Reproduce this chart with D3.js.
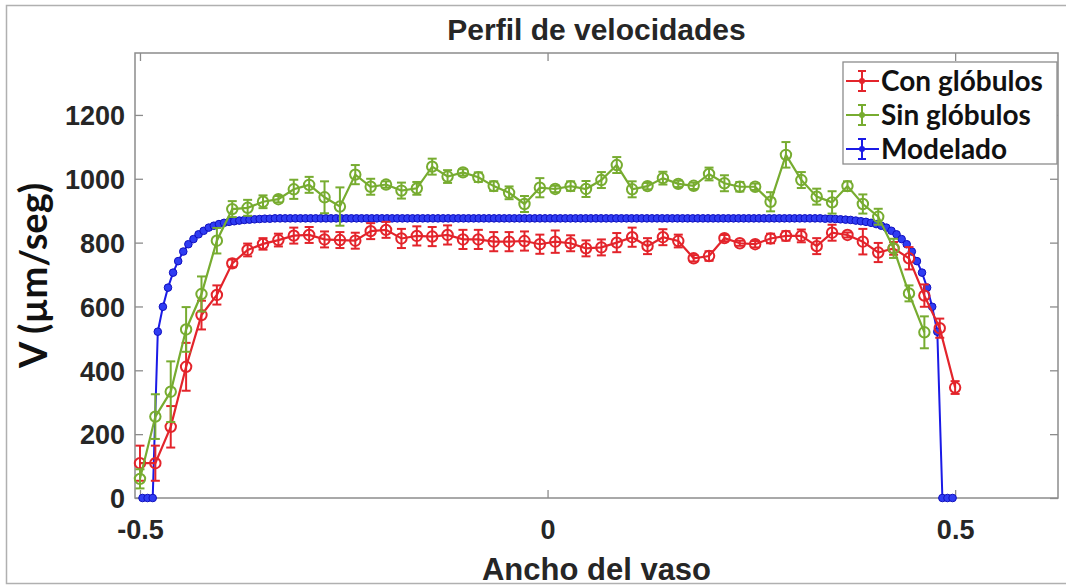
<!DOCTYPE html>
<html>
<head>
<meta charset="utf-8">
<script src="https://cdn.jsdelivr.net/npm/d3@7"></script>
<style>
  html, body { margin: 0; padding: 0; background: #fff; }
  svg { display: block; }
</style>
</head>
<body>
<div id="chart"></div>
<script>
// ---------------- DATA ----------------
const title = "Perfil de velocidades";
const xLabel = "Ancho del vaso";
const yLabel = "V (µm/seg)";
const seriesNames = ["Con glóbulos", "Sin glóbulos", "Modelado"];
const xTicks = [-0.5, 0, 0.5];
const xTickLabels = ["-0.5", "0", "0.5"];
const yTicks = [0, 200, 400, 600, 800, 1000, 1200];

// sample positions across the vessel (uniform grid of measurement points)
const nMeasured = 54;          // measurement points from -0.5 to 0.5
const nModel = 160;            // model points (cell centres)

// Con glóbulos (red)
const conValues = [
  109, 109, 223, 411, 573, 636, 735, 777, 796, 808,
  822, 824, 810, 808, 806, 836, 840, 813, 821, 819,
  824, 810, 810, 803, 803, 805, 795, 803, 798, 782,
  785, 800, 817, 789, 817, 805, 751, 758, 814, 798,
  795, 813, 821, 821, 789, 831, 824, 803, 769, 782,
  751, 634, 532, 346
];
const conErrors = [
  55, 55, 65, 75, 45, 30, 12, 20, 18, 20,
  25, 25, 25, 25, 25, 25, 25, 30, 30, 30,
  30, 30, 30, 30, 30, 30, 30, 35, 25, 25,
  25, 30, 30, 25, 25, 20, 10, 15, 10, 8,
  10, 15, 15, 20, 25, 25, 8, 40, 30, 20,
  35, 35, 30, 20
];

// Sin glóbulos (green)
const sinValues = [
  60, 255, 333, 528, 639, 806, 905, 909, 928, 936,
  967, 981, 942, 913, 1013, 975, 982, 963, 970, 1038,
  1007, 1020, 1005, 977, 956, 921, 972, 968, 977, 968,
  996, 1043, 967, 977, 1002, 984, 978, 1015, 986, 975,
  975, 928, 1075, 996, 944, 926, 977, 921, 881, 782,
  641, 519
];
const sinErrors = [
  30, 70, 95, 70, 55, 40, 25, 25, 20, 10,
  30, 25, 50, 60, 30, 25, 10, 25, 20, 25,
  20, 10, 15, 15, 20, 25, 30, 10, 15, 25,
  25, 25, 25, 10, 20, 10, 10, 20, 25, 15,
  10, 30, 40, 25, 25, 35, 15, 30, 25, 30,
  25, 50
];

// Modelado (blue)
const modelValues = [
  0, 0, 0, 521, 599, 659, 706, 742, 772, 795,
  811, 826, 837, 847, 853, 858, 862, 865, 867, 869,
  871, 872, 873, 874, 875, 875,
  876, 876, 876, 876, 876, 876, 876, 876, 876, 876, 876, 876,
  876, 876, 876, 876, 876, 876, 876, 876, 876, 876, 876, 876,
  876, 876, 876, 876, 876, 876, 876, 876, 876, 876, 876, 876,
  876, 876, 876, 876, 876, 876, 876, 876, 876, 876, 876, 876,
  876, 876, 876, 876, 876, 876, 876, 876, 876, 876, 876, 876,
  876, 876, 876, 876, 876, 876, 876, 876, 876, 876, 876, 876,
  876, 876, 876, 876, 876, 876, 876, 876, 876, 876, 876, 876,
  876, 876, 876, 876, 876, 876, 876, 876, 876, 876, 876, 876,
  876, 876, 876, 876, 876, 876, 876, 876, 876, 876, 876, 876,
  875, 875, 874, 873, 872, 871, 869, 867, 865, 862,
  858, 853, 847, 837, 826, 811, 795, 772, 742, 706,
  659, 599, 521, 0, 0, 0
];

const measuredX = d3.range(nMeasured).map(i => -0.5 + i / (nMeasured - 1));
const modelX = d3.range(nModel).map(k => -0.5 + (k + 0.5) / nModel);

const colors = { con: "#e3242b", sin: "#77ac30", model: "#1a1ae6" };

// ---------------- LAYOUT ----------------
const W = 1066, H = 586;
const box = { left: 135, right: 1058, top: 53, bottom: 498 };

const svg = d3.select("#chart").append("svg")
  .attr("width", W).attr("height", H);

svg.append("rect").attr("x", 0).attr("y", 0).attr("width", W).attr("height", H).attr("fill", "#fff");
// outer figure frame
svg.append("rect").attr("x", 6.5).attr("y", 5.5).attr("width", W + 10).attr("height", 578)
  .attr("fill", "none").attr("stroke", "#b0b0b0").attr("stroke-width", 1.5);

const x = d3.scaleLinear().domain([-0.5061, 0.6262]).range([box.left, box.right]);
const y = d3.scaleLinear().domain([0, 1394]).range([box.bottom, box.top]);

const axisColor = "#8c8c8c";
const textColor = "#262626";

// axes box
svg.append("rect")
  .attr("x", box.left).attr("y", box.top)
  .attr("width", box.right - box.left).attr("height", box.bottom - box.top)
  .attr("fill", "#fff").attr("stroke", axisColor).attr("stroke-width", 1.5);

// axes with inward ticks (bottom/top/left/right)
const tickLen = 8;
const gx = svg.append("g").attr("transform", `translate(0,${box.bottom})`)
  .call(d3.axisBottom(x).tickValues(xTicks).tickSize(-tickLen).tickFormat((d, i) => xTickLabels[i]));
const gxTop = svg.append("g").attr("transform", `translate(0,${box.top})`)
  .call(d3.axisTop(x).tickValues(xTicks).tickSize(-tickLen).tickFormat(""));
const gy = svg.append("g").attr("transform", `translate(${box.left},0)`)
  .call(d3.axisLeft(y).tickValues(yTicks).tickSize(-tickLen).tickFormat(d3.format("d")));
const gyR = svg.append("g").attr("transform", `translate(${box.right},0)`)
  .call(d3.axisRight(y).tickValues(yTicks).tickSize(-tickLen).tickFormat(""));

[gx, gxTop, gy, gyR].forEach(g => {
  g.select(".domain").remove();
  g.selectAll(".tick line").attr("stroke", axisColor).attr("stroke-width", 1.3);
});
gx.selectAll(".tick text")
  .attr("font-family", "'Liberation Sans', Arial, sans-serif")
  .attr("font-weight", "bold").attr("font-size", 27).attr("fill", textColor)
  .attr("y", 0).attr("dy", 41);
gy.selectAll(".tick text")
  .attr("font-family", "'Liberation Sans', Arial, sans-serif")
  .attr("font-weight", "bold").attr("font-size", 27).attr("fill", textColor)
  .attr("x", -10).attr("dy", "0.36em");

// title and labels
svg.append("text").attr("x", (box.left + box.right) / 2).attr("y", 40)
  .attr("text-anchor", "middle")
  .attr("font-family", "'Liberation Sans', Arial, sans-serif")
  .attr("font-weight", "bold").attr("font-size", 30).attr("fill", textColor)
  .text(title);

svg.append("text").attr("x", (box.left + box.right) / 2).attr("y", 580)
  .attr("text-anchor", "middle")
  .attr("font-family", "'Liberation Sans', Arial, sans-serif")
  .attr("font-weight", "bold").attr("font-size", 31).attr("fill", textColor)
  .text(xLabel);

svg.append("text")
  .attr("transform", `translate(47,${(box.top + box.bottom) / 2}) rotate(-90)`)
  .attr("text-anchor", "middle")
  .attr("font-family", "Lato, 'Noto Sans', sans-serif")
  .attr("font-weight", "bold").attr("font-size", 38).attr("fill", "#111")
  .text(yLabel);

// ---------------- MARKS ----------------
const plot = svg.append("g");
const line = d3.line().x(d => x(d.x)).y(d => y(d.v));

const modelData = modelX.map((xv, i) => ({ x: xv, v: modelValues[i] }));
const conData = conValues.map((v, i) => ({ x: measuredX[i], v, e: conErrors[i] }));
const sinData = sinValues.map((v, i) => ({ x: measuredX[i], v, e: sinErrors[i] }));

// Model (blue) drawn first
plot.append("path").datum(modelData).attr("d", line)
  .attr("fill", "none").attr("stroke", colors.model).attr("stroke-width", 2);
plot.append("g").selectAll("circle").data(modelData).join("circle")
  .attr("cx", d => x(d.x)).attr("cy", d => y(d.v)).attr("r", 3.8)
  .attr("fill", "#2f3cf2").attr("stroke", "#1010c0").attr("stroke-width", 1);

function drawMeasured(data, color) {
  const g = plot.append("g");
  g.append("path").datum(data).attr("d", line)
    .attr("fill", "none").attr("stroke", color).attr("stroke-width", 2.2);
  const eb = g.append("g").attr("stroke", color).attr("stroke-width", 2);
  eb.selectAll("line.v").data(data).join("line").attr("class", "v")
    .attr("x1", d => x(d.x)).attr("x2", d => x(d.x))
    .attr("y1", d => y(d.v - d.e)).attr("y2", d => y(d.v + d.e));
  eb.selectAll("line.t").data(data).join("line").attr("class", "t")
    .attr("x1", d => x(d.x) - 4.5).attr("x2", d => x(d.x) + 4.5)
    .attr("y1", d => y(d.v + d.e)).attr("y2", d => y(d.v + d.e));
  eb.selectAll("line.b").data(data).join("line").attr("class", "b")
    .attr("x1", d => x(d.x) - 4.5).attr("x2", d => x(d.x) + 4.5)
    .attr("y1", d => y(d.v - d.e)).attr("y2", d => y(d.v - d.e));
  g.append("g").selectAll("circle").data(data).join("circle")
    .attr("cx", d => x(d.x)).attr("cy", d => y(d.v)).attr("r", 5.2)
    .attr("fill", "none").attr("stroke", color).attr("stroke-width", 2);
}
drawMeasured(conData, colors.con);
drawMeasured(sinData, colors.sin);

// ---------------- LEGEND ----------------
const lg = svg.append("g");
lg.append("rect").attr("x", 843).attr("y", 62).attr("width", 214).attr("height", 102)
  .attr("fill", "#fff").attr("stroke", "#8c8c8c").attr("stroke-width", 1.3);
const legendItems = [
  { name: seriesNames[0], color: colors.con },
  { name: seriesNames[1], color: colors.sin },
  { name: seriesNames[2], color: colors.model }
];
legendItems.forEach((it, i) => {
  const cy = 81 + i * 34;
  const g = lg.append("g").attr("stroke", it.color).attr("stroke-width", 2);
  g.append("line").attr("x1", 846).attr("x2", 879).attr("y1", cy).attr("y2", cy);
  g.append("line").attr("x1", 862).attr("x2", 862).attr("y1", cy - 10).attr("y2", cy + 10);
  g.append("line").attr("x1", 858).attr("x2", 866).attr("y1", cy - 10).attr("y2", cy - 10);
  g.append("line").attr("x1", 858).attr("x2", 866).attr("y1", cy + 10).attr("y2", cy + 10);
  lg.append("circle").attr("cx", 862).attr("cy", cy).attr("r", 3).attr("fill", it.color);
  lg.append("text").attr("x", 881).attr("y", cy).attr("dy", "0.36em")
    .attr("font-family", "Lato, 'Noto Sans', sans-serif")
    .attr("font-weight", "bold").attr("font-size", 28).attr("fill", "#111")
    .text(it.name);
});
</script>
</body>
</html>
